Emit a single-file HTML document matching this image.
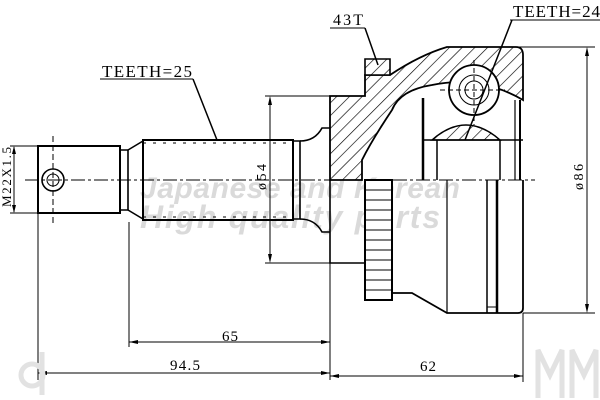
<!DOCTYPE html>
<html><head><meta charset="utf-8"><style>
html,body{margin:0;padding:0;background:#fff;width:600px;height:400px;overflow:hidden}
svg{display:block}
text{font-family:"Liberation Serif","DejaVu Serif",serif;fill:#000}
</style></head><body>
<svg width="600" height="400" viewBox="0 0 600 400" xmlns="http://www.w3.org/2000/svg">
<defs>
<pattern id="h" width="9" height="9" patternUnits="userSpaceOnUse" patternTransform="rotate(45)">
<rect width="9" height="9" fill="#fff"/><line x1="0" y1="0" x2="0" y2="9" stroke="#000" stroke-width="1.3"/>
</pattern>
</defs>
<!-- watermark -->
<text x="140" y="198" font-size="30" textLength="320" font-weight="bold" font-style="italic" style="fill:#dadada;font-family:'Liberation Sans',sans-serif">Japanese and Korean</text>
<text x="140" y="228" font-size="32" textLength="300" font-weight="bold" font-style="italic" style="fill:#dadada;font-family:'Liberation Sans',sans-serif">High quality parts</text>
<g stroke="#000" fill="none" stroke-width="1">
<line x1="25" y1="180" x2="535" y2="180" stroke-dasharray="14,3,3,3"/>
<rect x="38" y="146" width="82" height="67" stroke-width="2"/>
<circle cx="53" cy="180" r="11" stroke-width="1.6"/>
<circle cx="53" cy="180" r="6"/>
<line x1="53" y1="136" x2="53" y2="225" stroke-dasharray="6,3"/>
<path d="M120 150 L128 150 L128 210 L120 210" stroke-width="1.6"/>
<path d="M128 150 L143 141 M128 210 L143 219" stroke-width="1.6"/>
<rect x="143" y="140" width="150" height="80" stroke-width="2"/>
<line x1="143" y1="143" x2="293" y2="143" stroke-dasharray="3,7"/>
<line x1="143" y1="217" x2="293" y2="217" stroke-dasharray="3,7"/>
<path d="M293 141 L300 141 L300 219 L293 219" stroke-width="1.6"/>
<path d="M300 141 Q315 141 322 128 L330 128 M300 219 Q315 219 322 232 L330 232" stroke-width="1.6"/>
<line x1="100" y1="79" x2="193" y2="79"/>
<line x1="193" y1="79" x2="217" y2="140" stroke-width="1.5"/>
<line x1="265" y1="96" x2="330" y2="96"/>
<line x1="265" y1="263" x2="330" y2="263"/>
<line x1="270" y1="98" x2="270" y2="261"/>
<line x1="10" y1="146" x2="38" y2="146"/>
<line x1="10" y1="213" x2="38" y2="213"/>
<line x1="14" y1="147" x2="14" y2="212"/>
<line x1="129" y1="222" x2="129" y2="347"/>
<line x1="38" y1="213" x2="38" y2="380"/>
<line x1="330" y1="263" x2="330" y2="380"/>
<line x1="523" y1="313" x2="523" y2="382"/>
<line x1="129" y1="342" x2="330" y2="342"/>
<line x1="38" y1="373" x2="330" y2="373"/>
<line x1="330" y1="376" x2="523" y2="376"/>
<line x1="450" y1="47" x2="595" y2="47"/>
<line x1="523" y1="313" x2="595" y2="313"/>
<line x1="587" y1="49" x2="587" y2="311"/>
<path d="M330 180 L330 263 L365 263" stroke-width="1.6"/>
<rect x="365" y="180" width="27" height="120" fill="#fff" stroke-width="2"/>
<path d="M392 293 L412 293 L447 313 L518 313 Q523 313 523 308 L523 180" stroke-width="1.8"/>
<line x1="447" y1="180" x2="447" y2="313" stroke-width="1.2"/>
<line x1="487" y1="180" x2="487" y2="313" stroke-width="1.5"/>
<line x1="497" y1="180" x2="497" y2="313" stroke-width="2.5"/>
<line x1="487" y1="307" x2="497" y2="307"/>
<path d="M330 96 L365 96 L365 75 L390 75 Q420 55 447 47 L516 47 Q523 47 523 55 L523 100 Q480 75 432 85 Q400 90 392 110 Q372 140 362 160 L362 180 L330 180 Z" fill="url(#h)" stroke-width="1.8"/>
<path d="M365 59 L390 59 L390 75 L365 75 Z" fill="url(#h)" stroke-width="1.6"/>
<path d="M432 140 Q466 110 500 140 Z" fill="url(#h)" stroke-width="1.5"/>
<circle cx="474" cy="90" r="25" fill="#fff" stroke-width="1.8"/>
<circle cx="474" cy="90" r="15"/>
<circle cx="474" cy="90" r="9"/>
<line x1="474" y1="60" x2="474" y2="125" stroke-dasharray="5,3"/>
<line x1="440" y1="90" x2="505" y2="90" stroke-dasharray="5,3"/>
<line x1="423" y1="98" x2="423" y2="180" stroke-width="2.5"/>
<line x1="437" y1="140" x2="437" y2="180" stroke-width="1.5"/>
<line x1="500" y1="140" x2="500" y2="180" stroke-width="1.5"/>
<line x1="515" y1="100" x2="515" y2="180" stroke-width="1.2"/>
<line x1="520" y1="100" x2="520" y2="180" stroke-width="2"/>
<line x1="423" y1="140" x2="523" y2="140" stroke-width="1.5"/>
<g stroke-width="1">
<line x1="365" y1="190" x2="392" y2="190"/><line x1="365" y1="200" x2="392" y2="200"/>
<line x1="365" y1="210" x2="392" y2="210"/><line x1="365" y1="220" x2="392" y2="220"/>
<line x1="365" y1="230" x2="392" y2="230"/><line x1="365" y1="240" x2="392" y2="240"/>
<line x1="365" y1="250" x2="392" y2="250"/><line x1="365" y1="260" x2="392" y2="260"/>
<line x1="365" y1="270" x2="392" y2="270"/><line x1="365" y1="280" x2="392" y2="280"/>
<line x1="365" y1="290" x2="392" y2="290"/>
</g>
<line x1="330" y1="28" x2="365" y2="28"/>
<line x1="365" y1="28" x2="378" y2="65" stroke-width="1.5"/>
<line x1="510" y1="20" x2="600" y2="20"/>
<line x1="512" y1="20" x2="465" y2="140" stroke-width="1.5"/>
</g>
<g fill="#000">
<path d="M270 96 l-2 9 l4 0z"/><path d="M270 263 l-2 -9 l4 0z"/>
<path d="M14 146 l-2 8 l4 0z"/><path d="M14 213 l-2 -8 l4 0z"/>
<path d="M129 342 l9 -2 l0 4z"/><path d="M330 342 l-9 -2 l0 4z"/>
<path d="M38 373 l9 -2 l0 4z"/><path d="M330 373 l-9 -2 l0 4z"/>
<path d="M330 376 l9 -2 l0 4z"/><path d="M523 376 l-9 -2 l0 4z"/>
<path d="M587 47 l-2 9 l4 0z"/><path d="M587 313 l-2 -9 l4 0z"/>
</g>
<text x="102" y="77" font-size="17" textLength="90">TEETH=25</text>
<text x="333" y="25" font-size="16" textLength="30">43T</text>
<text x="513" y="17" font-size="17" textLength="87">TEETH=24</text>
<text x="222" y="341" font-size="15" textLength="16">65</text>
<text x="170" y="370" font-size="15" textLength="30">94.5</text>
<text x="420" y="371" font-size="15" textLength="16">62</text>
<text transform="translate(266,190) rotate(-90)" font-size="14" textLength="26">ø54</text>
<text transform="translate(583,190) rotate(-90)" font-size="14" textLength="26">ø86</text>
<text transform="translate(11,207) rotate(-90)" font-size="13" textLength="60">M22X1.5</text>
<g fill="none" stroke="#e2e2e2" stroke-width="5">
<circle cx="32" cy="375" r="11"/><line x1="42" y1="352" x2="42" y2="395"/>
<path d="M538 398 L538 350 L550 375 L562 350 L562 398"/>
<path d="M572 398 L572 350 L584 375 L596 350 L596 398"/>
</g>
</svg>
</body></html>
